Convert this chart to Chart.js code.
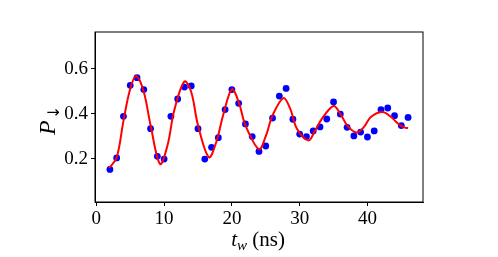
<!DOCTYPE html>
<html>
<head>
<meta charset="utf-8">
<script src="https://cdn.jsdelivr.net/npm/chart.js@4/dist/chart.umd.min.js"></script>
<style>
  html, body { margin: 0; padding: 0; background: #fff; }
  canvas { display: block; }
</style>
</head>
<body>
<canvas id="chart" width="498" height="257"></canvas>
<script>
// measured points
const waitTimes = [2, 3, 4, 5, 6, 7, 8, 9, 10, 11, 12, 13, 14, 15, 16, 17, 18, 19, 20, 21, 22, 23,
  24, 25, 26, 27, 28, 29, 30, 31, 32, 33, 34, 35, 36, 37, 38, 39, 40, 41, 42, 43, 44, 45, 46];
const pDown = [0.152, 0.203, 0.388, 0.526, 0.560, 0.507, 0.333, 0.210, 0.198, 0.388, 0.465, 0.518,
  0.523, 0.333, 0.198, 0.250, 0.293, 0.418, 0.507, 0.446, 0.354, 0.298, 0.232, 0.256, 0.380,
  0.478, 0.512, 0.375, 0.309, 0.298, 0.323, 0.341, 0.376, 0.452, 0.398, 0.339, 0.301, 0.318,
  0.296, 0.323, 0.418, 0.425, 0.391, 0.347, 0.383];

// fitted curve
const fitTimes = [1.9, 3.0, 4.0, 5.0, 5.9, 7.0, 8.0, 9.4, 10.5, 11.5, 13.0, 14.0, 15.0, 16.6, 17.7,
  18.7, 20.0, 21.0, 22.0, 24.0, 25.0, 26.0, 27.6, 28.6, 29.6, 31.3, 32.3, 33.3, 35.0, 36.0, 37.0,
  38.4, 39.5, 40.5, 42.2, 43.5, 44.5, 45.5, 46.0];
const fitValues = [0.158, 0.205, 0.368, 0.511, 0.567, 0.496, 0.348, 0.176, 0.259, 0.415, 0.543,
  0.496, 0.348, 0.206, 0.274, 0.392, 0.508, 0.452, 0.348, 0.242, 0.300, 0.392, 0.469, 0.422,
  0.333, 0.281, 0.326, 0.378, 0.434, 0.400, 0.348, 0.316, 0.341, 0.385, 0.407, 0.385, 0.356,
  0.338, 0.336];

const xTicks = [0, 10, 20, 30, 40];
const yTicks = [0.2, 0.4, 0.6];

const serif = '"Liberation Serif", "DejaVu Serif", serif';

const framePlugin = {
  id: 'frame',
  afterDraw(chart) {
    const { ctx, chartArea: a } = chart;
    ctx.save();
    ctx.strokeStyle = '#000';
    ctx.lineWidth = 1;
    ctx.strokeRect(a.left, a.top, a.right - a.left, a.bottom - a.top);

    // axis titles
    ctx.fillStyle = '#000';
    ctx.textBaseline = 'alphabetic';
    // x title: t_w (ns)
    const xb = 246, xc = 258;
    ctx.font = 'italic 21px ' + serif;
    const wT = ctx.measureText('t').width;
    ctx.font = 'italic 15px ' + serif;
    const wW = ctx.measureText('w').width;
    ctx.font = '21px ' + serif;
    const wR = ctx.measureText(' (ns)').width;
    let x0 = xc - (wT + wW + wR) / 2;
    ctx.font = 'italic 21px ' + serif;
    ctx.fillText('t', x0, xb);
    ctx.font = 'italic 15px ' + serif;
    ctx.fillText('w', x0 + wT, xb + 4);
    ctx.font = '21px ' + serif;
    ctx.fillText(' (ns)', x0 + wT + wW, xb);

    // y title: P with a down arrow subscript
    ctx.translate(55, 135);
    ctx.rotate(-Math.PI / 2);
    ctx.font = 'italic 24px ' + serif;
    ctx.fillText('P', 0, 0);
    ctx.font = '16px "DejaVu Sans", sans-serif';
    ctx.fillText('\u2193', 16, 4);
    ctx.restore();
  }
};

new Chart(document.getElementById('chart'), {
  type: 'scatter',
  data: {
    datasets: [{
      type: 'line',
      data: fitTimes.map((t, i) => ({ x: t, y: fitValues[i] })),
      borderColor: '#ff0000',
      borderWidth: 2,
      pointRadius: 0,
      tension: 0.35,
      fill: false,
      order: 0
    }, {
      data: waitTimes.map((t, i) => ({ x: t, y: pDown[i] })),
      backgroundColor: '#0000ff',
      borderWidth: 0,
      pointRadius: 3.4,
      order: 1
    }]
  },
  options: {
    responsive: false,
    animation: false,
    layout: { padding: { left: 0, top: 32, right: 75, bottom: 0 } },
    plugins: { legend: { display: false }, tooltip: { enabled: false } },
    scales: {
      x: {
        type: 'linear',
        min: -0.2,
        max: 48.2,
        afterBuildTicks: (s) => { s.ticks = xTicks.map(v => ({ value: v })); },
        afterFit: (s) => { s.height = 55; },
        grid: { drawOnChartArea: false, color: '#000', tickLength: 4, tickWidth: 1 },
        border: { color: '#000', width: 1 },
        ticks: { color: '#000', padding: 2, maxRotation: 0, font: { family: serif, size: 19 } }
      },
      y: {
        min: 0.007,
        max: 0.763,
        afterBuildTicks: (s) => { s.ticks = yTicks.map(v => ({ value: v })); },
        afterFit: (s) => { s.width = 95; },
        grid: { drawOnChartArea: false, color: '#000', tickLength: 4, tickWidth: 1 },
        border: { color: '#000', width: 1 },
        ticks: { color: '#000', padding: 3, font: { family: serif, size: 19 },
          callback: (v) => v.toFixed(1) }
      }
    }
  },
  plugins: [framePlugin]
});
</script>
</body>
</html>
